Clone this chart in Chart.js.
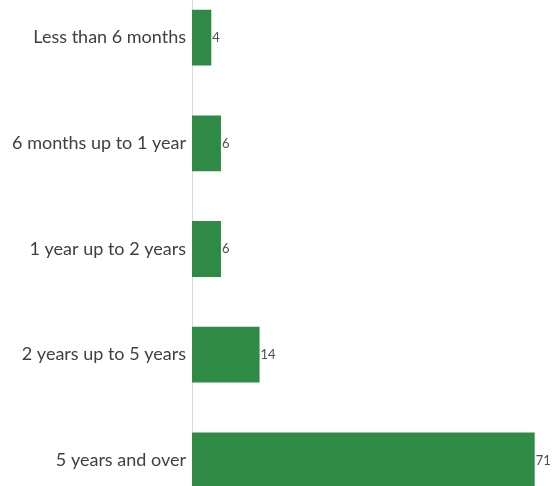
<!DOCTYPE html>
<html>
<head>
<meta charset="utf-8">
<script src="https://cdn.jsdelivr.net/npm/chart.js@4/dist/chart.umd.min.js"></script>
<style>
  html, body { margin: 0; padding: 0; background: #fff; overflow: hidden; }
  #wrap { position: absolute; left: 0; top: -32px; width: 560px; height: 562px; }
</style>
</head>
<body>
<div id="wrap"><canvas id="myChart"></canvas></div>
<script>
const categories = ['Less than 6 months', '6 months up to 1 year', '1 year up to 2 years', '2 years up to 5 years', '5 years and over'];
const values = [4, 6, 6, 14, 71];

// prints each value just past the end of its bar
const valueLabels = {
    id: 'valueLabels',
    afterDatasetsDraw(chart) {
        const ctx = chart.ctx;
        const meta = chart.getDatasetMeta(0);
        ctx.save();
        ctx.font = '13px Lato, "Open Sans", sans-serif';
        ctx.fillStyle = '#505050';
        ctx.textAlign = 'left';
        ctx.textBaseline = 'middle';
        meta.data.forEach((bar, i) => {
            ctx.fillText(String(values[i]), bar.x + 1, bar.y);
        });
        ctx.restore();
    }
};

const chartContext = document.getElementById('myChart').getContext('2d');
const myChart = new Chart(chartContext, {
    type: 'bar',
    data: {
        labels: categories,
        datasets: [{
            data: values,
            backgroundColor: '#2f8a45',
            borderWidth: 0,
            barPercentage: 0.528,
            categoryPercentage: 1
        }]
    },
    options: {
        indexAxis: 'y',
        responsive: true,
        maintainAspectRatio: false,
        animation: false,
        layout: { padding: { left: 0, right: 6, top: 0, bottom: 0 } },
        plugins: {
            legend: { display: false },
            tooltip: { enabled: false }
        },
        scales: {
            x: {
                min: 0,
                max: 75,
                display: false,
                grid: { display: false }
            },
            y: {
                grid: { display: false, drawTicks: false },
                border: { display: true, color: '#d9d9d9', width: 1 },
                afterFit(scale) { scale.width = 192; },
                ticks: {
                    padding: 6,
                    color: '#404040',
                    font: { family: 'Lato, "Open Sans", sans-serif', size: 18 }
                }
            }
        }
    },
    plugins: [valueLabels]
});
</script>
</body>
</html>
